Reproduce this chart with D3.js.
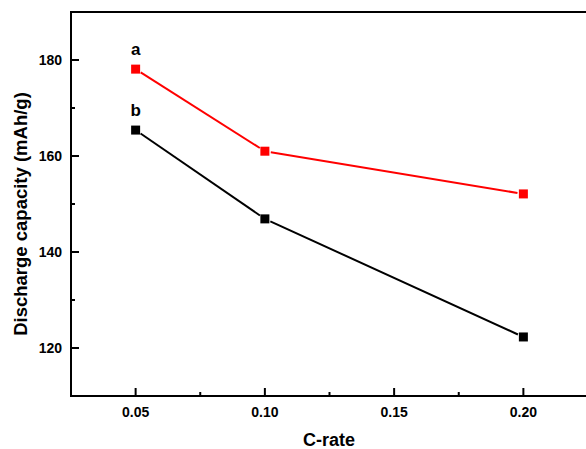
<!DOCTYPE html>
<html>
<head>
<meta charset="utf-8">
<script src="https://cdn.jsdelivr.net/npm/d3@7"></script>
<style>
  body { margin: 0; background: #fff; }
  svg { font-family: Arial, "Liberation Sans", sans-serif; }
</style>
</head>
<body>
<div id="chart"></div>
<script>
var rates = [0.05, 0.10, 0.20];
var seriesA = [178.1, 161.0, 152.1];
var seriesB = [165.4, 146.9, 122.3];
var xTicks = [0.05, 0.10, 0.15, 0.20];
var xMinor = [0.075, 0.125, 0.175];
var yTicks = [120, 140, 160, 180];
var yMinor = [130, 150, 170];

var width = 586;
var height = 449;
var plotLeft = 71, plotTop = 12, plotBottom = 396, plotRight = 588;

var svg = d3.select("#chart").append("svg")
    .attr("width", width)
    .attr("height", height);

var x = d3.scaleLinear().domain([0.025, 0.225]).range([plotLeft, plotRight]);
var y = d3.scaleLinear().domain([110, 190]).range([plotBottom, plotTop]);

// frame
svg.append("path")
    .attr("d", "M" + plotRight + "," + plotTop + "H" + plotLeft + "V" + plotBottom + "H" + plotRight)
    .attr("fill", "none")
    .attr("stroke", "#000")
    .attr("stroke-width", 2);

// x ticks (inward)
svg.selectAll(".xt").data(xTicks).enter().append("line")
    .attr("x1", d => x(d)).attr("x2", d => x(d))
    .attr("y1", plotBottom).attr("y2", plotBottom - 8)
    .attr("stroke", "#000").attr("stroke-width", 2);
svg.selectAll(".xm").data(xMinor).enter().append("line")
    .attr("x1", d => x(d)).attr("x2", d => x(d))
    .attr("y1", plotBottom).attr("y2", plotBottom - 4)
    .attr("stroke", "#000").attr("stroke-width", 2);
svg.selectAll(".xl").data(xTicks).enter().append("text")
    .attr("x", d => x(d)).attr("y", plotBottom + 21)
    .attr("text-anchor", "middle")
    .attr("font-size", "14px").attr("font-weight", "bold")
    .text(d => d3.format(".2f")(d));

// y ticks
svg.selectAll(".yt").data(yTicks).enter().append("line")
    .attr("x1", plotLeft).attr("x2", plotLeft + 8)
    .attr("y1", d => y(d)).attr("y2", d => y(d))
    .attr("stroke", "#000").attr("stroke-width", 2);
svg.selectAll(".ym").data(yMinor).enter().append("line")
    .attr("x1", plotLeft).attr("x2", plotLeft + 4)
    .attr("y1", d => y(d)).attr("y2", d => y(d))
    .attr("stroke", "#000").attr("stroke-width", 2);
svg.selectAll(".yl").data(yTicks).enter().append("text")
    .attr("x", plotLeft - 9).attr("y", d => y(d) + 5)
    .attr("text-anchor", "end")
    .attr("font-size", "14px").attr("font-weight", "bold")
    .text(d => d);

// axis titles
svg.append("text")
    .attr("x", 329).attr("y", 446)
    .attr("text-anchor", "middle")
    .attr("font-size", "18px").attr("font-weight", "bold")
    .text("C-rate");
svg.append("text")
    .attr("transform", "translate(27,214) rotate(-90)")
    .attr("text-anchor", "middle")
    .attr("font-size", "18.5px").attr("font-weight", "bold")
    .text("Discharge capacity (mAh/g)");

function drawSeries(values, color, label) {
    var pts = rates.map((r, i) => [x(r), y(values[i])]);
    // segments with small gap at markers
    for (var i = 0; i < pts.length - 1; i++) {
        var p = pts[i], q = pts[i + 1];
        var dx = q[0] - p[0], dy = q[1] - p[1];
        var len = Math.sqrt(dx * dx + dy * dy);
        var g = 6;
        svg.append("line")
            .attr("x1", p[0] + dx / len * g).attr("y1", p[1] + dy / len * g)
            .attr("x2", q[0] - dx / len * g).attr("y2", q[1] - dy / len * g)
            .attr("stroke", color).attr("stroke-width", 2);
    }
    svg.selectAll(null).data(pts).enter().append("rect")
        .attr("x", d => d[0] - 4.5).attr("y", d => d[1] - 4.5)
        .attr("width", 9).attr("height", 9)
        .attr("fill", color);
    svg.append("text")
        .attr("x", pts[0][0]).attr("y", pts[0][1] - 14)
        .attr("text-anchor", "middle")
        .attr("font-size", "17px").attr("font-weight", "bold")
        .text(label);
}

drawSeries(seriesA, "#ff0000", "a");
drawSeries(seriesB, "#000000", "b");
</script>
</body>
</html>
